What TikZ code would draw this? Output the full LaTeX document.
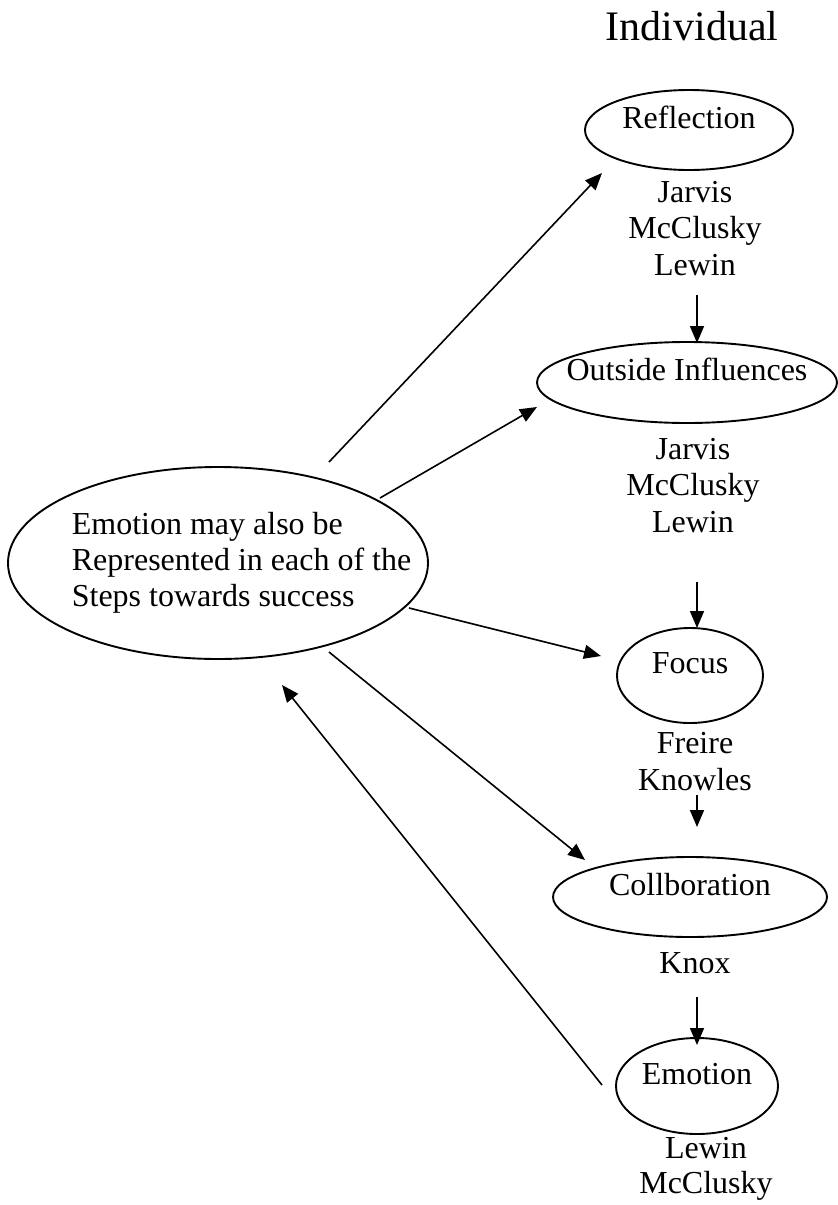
\documentclass[tikz,border=0pt]{standalone}
\usepackage{fontspec}
\setmainfont{Liberation Serif}
\usetikzlibrary{arrows.meta, shapes.geometric, positioning}

\begin{document}
\begin{tikzpicture}[x=1pt, y=-1pt, line width=1.6pt,
    stage/.style={ellipse, draw, line width=1.9pt, inner xsep=-20pt, inner ysep=0pt, text height=24pt, text depth=28pt, font=\fontsize{32}{36.5}\selectfont},
    names/.style={align=center, inner sep=0pt, anchor=base, font=\fontsize{32}{36.5}\selectfont},
    arr/.style={-{Triangle[length=17pt, width=14pt]}}]

        \useasboundingbox (0,0) rectangle (838,1205);

        \node[anchor=base, inner sep=0pt, font=\fontsize{42}{48}\selectfont] (indiv) at (692,40) {Individual};

        \node[ellipse, draw, line width=1.9pt, minimum width=420pt, minimum height=192pt] (main) at (218,563) {};
        \node[align=left, anchor=west, inner sep=0pt, font=\fontsize{32}{36}\selectfont] (maintext) at ([xshift=64pt]main.west) {Emotion may also be\\Represented in each of the\\Steps towards success};

        \node[stage, minimum width=208pt, minimum height=80pt] (refl) at (689,130) {Reflection};
        \node[stage, minimum width=300pt, minimum height=81pt] (outside) at (687,382.5) {Outside Influences};
        \node[stage, minimum width=146pt, minimum height=95pt] (focus) at (690,675.5) {Focus};
        \node[stage, minimum width=274pt, minimum height=80pt] (collab) at (690,897) {Collboration};
        \node[stage, minimum width=162pt, minimum height=96pt] (emo) at (697,1086) {Emotion};

        % names under each step (base = last line)
        \node[names] (reflnames) at (695,275) {Jarvis\\McClusky\\Lewin};
        \node[names] (outsidenames) at (693,532) {Jarvis\\McClusky\\Lewin};
        \node[names] (focusnames) at (695,790) {Freire\\Knowles};
        \node[names] (collabnames) at (695,973) {Knox};
        \node[names, font=\fontsize{32}{35}\selectfont] (emonames) at (706,1193) {Lewin\\McClusky};

        % arrow ends
        \coordinate (m1) at (329,462);  \coordinate (t1) at (602,173);
        \coordinate (m2) at (380,498);  \coordinate (t2) at (537,407);
        \coordinate (m3) at (409,608);  \coordinate (t3) at (601,656);
        \coordinate (m4) at (329,652);  \coordinate (t4) at (585,860);
        \coordinate (b1) at (602,1085); \coordinate (b2) at (282,685);
        \coordinate (v1) at (697,295);  \coordinate (w1) at (697,343);
        \coordinate (v2) at (697,582);  \coordinate (w2) at (697,628);
        \coordinate (v3) at (697,795);  \coordinate (w3) at (697,827);
        \coordinate (v4) at (697,997);  \coordinate (w4) at (697,1045);

        \path[arr]
        (m1) edge (t1)
        (m2) edge (t2)
        (m3) edge (t3)
        (m4) edge (t4)
        (b1) edge (b2)
        (v1) edge (w1)
        (v2) edge (w2)
        (v3) edge (w3)
        (v4) edge (w4)
        ;

\end{tikzpicture}
\end{document}
